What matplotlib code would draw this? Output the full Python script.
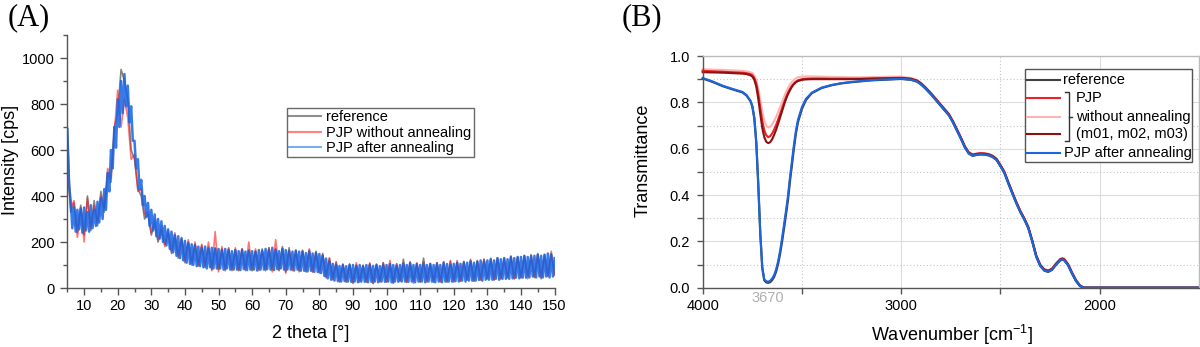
import numpy as np
import matplotlib
matplotlib.use('Agg')
import matplotlib.pyplot as plt
from matplotlib.lines import Line2D
from matplotlib.patches import Rectangle
from matplotlib.ticker import MultipleLocator, FormatStrFormatter

plt.rcParams['font.family'] = ['Liberation Sans', 'DejaVu Sans']
plt.rcParams['mathtext.fontset'] = 'custom'
plt.rcParams['mathtext.rm'] = 'Liberation Sans'
plt.rcParams['mathtext.it'] = 'Liberation Sans:italic'

# ---------------- Panel A data (XRD) ----------------
two_theta_fine = np.arange(5.0, 150.25, 0.5)     # 291 points
two_theta_coarse = np.arange(5.0, 150.5, 1.0)    # 146 points

after_annealing_xrd = [
    690, 450, 380, 260, 350, 245, 340, 255, 345, 240,
    350, 250, 330, 245, 360, 260, 340, 270, 375, 285,
    390, 300, 430, 340, 500, 420, 600, 520, 700, 610,
    820, 700, 900, 760, 930, 790, 880, 720, 790, 640,
    640, 520, 560, 430, 470, 360, 400, 310, 370, 270,
    340, 250, 320, 225, 300, 215, 290, 200, 270, 185,
    255, 170, 245, 155, 230, 140, 225, 130, 215, 120,
    205, 110, 195, 105, 190, 100, 185, 95, 180, 95,
    175, 90, 180, 85, 170, 90, 175, 85, 170, 85,
    170, 85, 165, 80, 170, 85, 165, 80, 160, 80,
    165, 80, 160, 78, 165, 82, 158, 78, 162, 80,
    160, 80, 158, 76, 165, 80, 160, 80, 170, 82,
    165, 80, 175, 78, 165, 82, 160, 85, 170, 80,
    165, 80, 160, 80, 158, 76, 162, 80, 158, 75,
    158, 75, 152, 72, 158, 75, 150, 70, 152, 70,
    148, 65, 140, 52, 128, 42, 115, 36, 105, 32,
    100, 30, 96, 28, 100, 30, 95, 28, 100, 27,
    100, 28, 96, 25, 100, 28, 95, 27, 100, 25,
    100, 27, 96, 28, 100, 25, 95, 28, 100, 27,
    100, 28, 104, 25, 100, 28, 96, 27, 100, 28,
    104, 28, 100, 27, 108, 28, 100, 25, 104, 28,
    100, 28, 104, 25, 100, 28, 105, 28, 100, 25,
    105, 28, 100, 25, 110, 28, 104, 28, 100, 28,
    105, 30, 110, 28, 105, 32, 110, 28, 110, 32,
    115, 32, 110, 32, 115, 35, 120, 32, 115, 36,
    120, 36, 125, 36, 120, 40, 130, 36, 125, 40,
    130, 40, 125, 40, 135, 42, 130, 45, 135, 42,
    135, 45, 140, 45, 135, 46, 140, 50, 140, 46,
    145, 50, 140, 46, 145, 50, 150, 46, 145, 50,
    130,
]

reference_xrd = [
    700, 330, 370, 240, 360, 230, 400, 250, 380, 270,
    420, 330, 500, 460, 700, 760, 950, 900, 820, 600,
    560, 430, 400, 300, 320, 230, 280, 200, 250, 190,
    240, 150, 220, 130, 210, 110, 200, 100, 190, 95,
    185, 90, 180, 80, 175, 80, 170, 75, 175, 80,
    165, 75, 170, 80, 165, 75, 160, 80, 170, 75,
    175, 80, 170, 75, 180, 70, 175, 80, 165, 75,
    160, 70, 165, 70, 160, 65, 150, 45, 130, 35,
    110, 30, 100, 25, 105, 20, 100, 30, 95, 25,
    105, 20, 100, 30, 110, 25, 100, 20, 105, 30,
    125, 25, 110, 30, 105, 25, 130, 30, 105, 25,
    110, 30, 105, 25, 115, 30, 110, 30, 115, 35,
    120, 30, 115, 35, 125, 40, 120, 35, 130, 40,
    125, 45, 135, 40, 130, 45, 140, 50, 135, 45,
    145, 40, 140, 50, 150, 60,
]

without_annealing_xrd = [
    500, 350, 380, 220, 350, 200, 390, 260, 360, 280,
    400, 350, 520, 480, 680, 860, 700, 820, 740, 560,
    580, 420, 430, 320, 330, 240, 300, 210, 270, 180,
    250, 160, 240, 140, 220, 120, 210, 110, 200, 100,
    190, 95, 200, 75, 245, 70, 180, 80, 170, 75,
    175, 80, 170, 75, 200, 80, 170, 75, 165, 80,
    175, 70, 210, 80, 170, 65, 165, 75, 160, 70,
    165, 75, 170, 70, 155, 70, 145, 50, 130, 40,
    115, 25, 105, 30, 100, 25, 110, 25, 100, 30,
    110, 20, 105, 25, 110, 30, 120, 25, 105, 30,
    110, 25, 115, 20, 110, 30, 115, 25, 105, 30,
    110, 25, 115, 30, 120, 25, 120, 30, 115, 35,
    125, 30, 120, 35, 125, 40, 130, 35, 125, 40,
    130, 45, 140, 40, 135, 45, 140, 40, 145, 50,
    150, 45, 145, 55, 160, 55,
]

# ---------------- Panel B data (FTIR) ----------------
wavenumber = [
    4000, 3950, 3900, 3850, 3800, 3780, 3760, 3750, 3740, 3730,
    3720, 3710, 3700, 3690, 3680, 3670, 3660, 3650, 3640, 3630,
    3620, 3610, 3600, 3590, 3580, 3570, 3560, 3550, 3540, 3530,
    3520, 3500, 3480, 3450, 3400, 3350, 3300, 3250, 3200, 3150,
    3100, 3050, 3000, 2950, 2920, 2900, 2880, 2850, 2820, 2800,
    2780, 2760, 2740, 2720, 2700, 2680, 2660, 2640, 2620, 2600,
    2580, 2560, 2540, 2520, 2500, 2480, 2460, 2440, 2420, 2400,
    2380, 2360, 2340, 2320, 2300, 2280, 2260, 2240, 2220, 2200,
    2190, 2180, 2160, 2140, 2120, 2100, 2080, 2060, 2000, 1900,
    1800, 1700, 1600, 1500,
]

t_after = [
    0.905, 0.890, 0.872, 0.858, 0.845, 0.832, 0.808, 0.785, 0.735, 0.630,
    0.450, 0.240, 0.090, 0.036, 0.028, 0.026, 0.030, 0.040, 0.055, 0.080,
    0.115, 0.160, 0.215, 0.275, 0.335, 0.400, 0.480, 0.550, 0.620, 0.680,
    0.725, 0.780, 0.815, 0.842, 0.864, 0.875, 0.883, 0.888, 0.892, 0.896,
    0.898, 0.900, 0.902, 0.898, 0.890, 0.878, 0.862, 0.835, 0.805, 0.785,
    0.765, 0.745, 0.715, 0.680, 0.645, 0.607, 0.580, 0.570, 0.574, 0.576,
    0.575, 0.572, 0.565, 0.552, 0.525, 0.495, 0.450, 0.407, 0.365, 0.327,
    0.295, 0.258, 0.200, 0.135, 0.095, 0.075, 0.069, 0.078, 0.100, 0.118,
    0.122, 0.120, 0.098, 0.062, 0.030, 0.008, 0.000, 0.000, 0.000, 0.000,
    0.000, 0.000, 0.000, 0.000,
]

t_reference = [
    0.903, 0.888, 0.870, 0.856, 0.843, 0.830, 0.806, 0.782, 0.730, 0.622,
    0.440, 0.232, 0.085, 0.032, 0.023, 0.021, 0.024, 0.033, 0.047, 0.070,
    0.103, 0.147, 0.200, 0.258, 0.318, 0.382, 0.462, 0.533, 0.605, 0.668,
    0.715, 0.772, 0.810, 0.840, 0.862, 0.874, 0.882, 0.887, 0.891, 0.895,
    0.897, 0.899, 0.901, 0.897, 0.889, 0.877, 0.861, 0.834, 0.804, 0.784,
    0.764, 0.744, 0.714, 0.679, 0.644, 0.606, 0.579, 0.569, 0.573, 0.575,
    0.574, 0.571, 0.564, 0.551, 0.524, 0.494, 0.449, 0.406, 0.364, 0.326,
    0.294, 0.257, 0.199, 0.134, 0.094, 0.074, 0.068, 0.077, 0.099, 0.117,
    0.121, 0.119, 0.097, 0.061, 0.029, 0.007, 0.000, 0.000, 0.000, 0.000,
    0.000, 0.000, 0.000, 0.000,
]

t_m01 = [
    0.936, 0.934, 0.932, 0.930, 0.928, 0.926, 0.922, 0.917, 0.905, 0.880,
    0.835, 0.775, 0.720, 0.680, 0.658, 0.650, 0.654, 0.666, 0.683, 0.703,
    0.726, 0.750, 0.775, 0.800, 0.822, 0.842, 0.858, 0.872, 0.882, 0.890,
    0.895, 0.900, 0.902, 0.903, 0.903, 0.902, 0.902, 0.902, 0.902, 0.903,
    0.904, 0.905, 0.906, 0.902, 0.894, 0.882, 0.866, 0.839, 0.809, 0.789,
    0.769, 0.749, 0.719, 0.684, 0.649, 0.611, 0.584, 0.574, 0.578, 0.580,
    0.579, 0.576, 0.569, 0.556, 0.529, 0.499, 0.454, 0.411, 0.369, 0.331,
    0.299, 0.262, 0.204, 0.139, 0.099, 0.079, 0.073, 0.082, 0.104, 0.122,
    0.126, 0.124, 0.102, 0.066, 0.033, 0.010, 0.000, 0.000, 0.000, 0.000,
    0.000, 0.000, 0.000, 0.000,
]

t_m02 = [
    0.943, 0.941, 0.940, 0.938, 0.936, 0.934, 0.930, 0.926, 0.915, 0.895,
    0.860, 0.810, 0.760, 0.722, 0.700, 0.692, 0.695, 0.705, 0.720, 0.738,
    0.758, 0.780, 0.802, 0.824, 0.845, 0.862, 0.877, 0.889, 0.898, 0.904,
    0.908, 0.911, 0.912, 0.912, 0.911, 0.910, 0.909, 0.908, 0.908, 0.909,
    0.910, 0.911, 0.911, 0.905, 0.896, 0.884, 0.868, 0.841, 0.811, 0.791,
    0.771, 0.751, 0.721, 0.686, 0.651, 0.613, 0.586, 0.576, 0.580, 0.582,
    0.581, 0.578, 0.571, 0.558, 0.531, 0.501, 0.456, 0.413, 0.371, 0.333,
    0.301, 0.264, 0.206, 0.141, 0.101, 0.081, 0.075, 0.084, 0.106, 0.124,
    0.128, 0.126, 0.104, 0.068, 0.035, 0.011, 0.000, 0.000, 0.000, 0.000,
    0.000, 0.000, 0.000, 0.000,
]

t_m03 = [
    0.930, 0.929, 0.928, 0.926, 0.924, 0.922, 0.917, 0.911, 0.897, 0.868,
    0.815, 0.750, 0.690, 0.650, 0.630, 0.624, 0.628, 0.641, 0.660, 0.682,
    0.708, 0.735, 0.762, 0.790, 0.815, 0.836, 0.853, 0.868, 0.879, 0.887,
    0.892, 0.897, 0.899, 0.900, 0.900, 0.900, 0.900, 0.900, 0.901, 0.902,
    0.903, 0.904, 0.905, 0.901, 0.893, 0.881, 0.865, 0.838, 0.808, 0.788,
    0.768, 0.748, 0.718, 0.683, 0.648, 0.610, 0.583, 0.573, 0.577, 0.579,
    0.578, 0.575, 0.568, 0.555, 0.528, 0.498, 0.453, 0.410, 0.368, 0.330,
    0.298, 0.261, 0.203, 0.138, 0.098, 0.078, 0.072, 0.081, 0.103, 0.121,
    0.125, 0.123, 0.101, 0.065, 0.032, 0.009, 0.000, 0.000, 0.000, 0.000,
    0.000, 0.000, 0.000, 0.000,
]

xrd_labels = ['reference', 'PJP without annealing', 'PJP after annealing']
ftir_labels = ['reference', 'PJP', 'without annealing', '(m01, m02, m03)',
               'PJP after annealing']

# ---------------- Figure ----------------
W, H = 1200, 347
fig = plt.figure(figsize=(W / 100, H / 100), dpi=100)


def fx(x):
    return x / W


def fy(y):
    return 1 - y / H


AX_COL = '#555555'
TICK_FS = 10.5
LABEL_FS = 13

# ---- Panel A ----
axA = fig.add_axes([fx(67.3), fy(288), (554.6 - 67.3) / W, (288 - 35) / H])
axA.plot(two_theta_coarse, reference_xrd, color='#333333', lw=1.2, alpha=0.6,
         label=xrd_labels[0])
axA.plot(two_theta_coarse, without_annealing_xrd, color='#ff1a1a', lw=1.2,
         alpha=0.6, label=xrd_labels[1])
axA.plot(two_theta_fine, after_annealing_xrd, color='#1464e6', lw=1.8,
         alpha=0.85, label=xrd_labels[2])
axA.set_xlim(5, 150)
axA.set_ylim(0, 1100)
axA.set_xticks(np.arange(10, 151, 10))
axA.xaxis.set_minor_locator(MultipleLocator(5))
axA.set_yticks(np.arange(0, 1001, 200))
axA.yaxis.set_minor_locator(MultipleLocator(100))
for s in ['top', 'right']:
    axA.spines[s].set_visible(False)
for s in ['left', 'bottom']:
    axA.spines[s].set_color(AX_COL)
    axA.spines[s].set_linewidth(1.0)
axA.tick_params(which='major', direction='out', length=5, width=1,
                color=AX_COL, labelsize=TICK_FS, pad=3)
axA.tick_params(which='minor', direction='out', length=3, width=1,
                color=AX_COL)
axA.tick_params(axis='y', which='major', pad=4)
axA.set_xlabel('2 theta [°]', fontsize=LABEL_FS)
axA.set_ylabel('Intensity [cps]', fontsize=LABEL_FS)
axA.xaxis.label.set_va('center')
axA.yaxis.label.set_va('center')
axA.xaxis.set_label_coords((311 - 67.3) / 487.3, (288 - 333) / 253)
axA.yaxis.set_label_coords((11 - 67.3) / 487.3, (288 - 160) / 253)
legA = axA.legend(loc='upper left', bbox_to_anchor=((287 - 67.3) / 487.3,
                                                     (288 - 108) / 253),
                  borderaxespad=0, fontsize=10.5, frameon=True, fancybox=False,
                  edgecolor='#444444', handlelength=2.2, handletextpad=0.35,
                  labelspacing=0.1, borderpad=0.15)
legA.get_frame().set_linewidth(1.0)
for ln in legA.get_lines():
    ln.set_linewidth(1.5)
    ln.set_alpha(0.55)

fig.text(fx(8), fy(18), '(A)', family=['Liberation Serif', 'DejaVu Serif'],
         fontsize=22, ha='left', va='center')

# ---- Panel B ----
axB = fig.add_axes([fx(702.7), fy(287.7), (1199 - 702.7) / W,
                    (287.7 - 56) / H])
axB.set_xlim(4000, 1500)
axB.set_ylim(0, 1.0)
axB.set_xticks([4000, 3000, 2000])
axB.set_xticks([3500, 2500], minor=True)
axB.set_yticks(np.arange(0, 1.01, 0.2))
axB.yaxis.set_minor_locator(MultipleLocator(0.1))
axB.yaxis.set_major_formatter(FormatStrFormatter('%.1f'))
axB.grid(which='major', color='#dcdcdc', lw=0.8, ls='-')
axB.grid(which='minor', color='#c4c4c4', lw=0.8, ls=(0, (1, 2)))
axB.set_axisbelow(True)
for s in ['left', 'bottom']:
    axB.spines[s].set_color(AX_COL)
    axB.spines[s].set_linewidth(1.0)
for s in ['top', 'right']:
    axB.spines[s].set_color('#bbbbbb')
    axB.spines[s].set_linewidth(1.0)
axB.tick_params(which='both', direction='out', length=4, width=1,
                color=AX_COL, labelsize=TICK_FS)
axB.tick_params(axis='x', which='major', pad=4)
axB.tick_params(axis='y', which='major', pad=5)

b_colors = ['#404040', '#ee2222', '#ffb4b4', '#8b1212', '#1a66e0']
axB.plot(wavenumber, t_m02, color=b_colors[2], lw=1.5, clip_on=False)
axB.plot(wavenumber, t_m01, color=b_colors[1], lw=1.5, clip_on=False)
axB.plot(wavenumber, t_m03, color=b_colors[3], lw=1.5, clip_on=False)
axB.plot(wavenumber, t_reference, color=b_colors[0], lw=1.6, clip_on=False)
axB.plot(wavenumber, t_after, color=b_colors[4], lw=1.5, clip_on=False)

axB.set_xlabel('Wavenumber [cm$^{-1}$]', fontsize=LABEL_FS)
axB.set_ylabel('Transmittance', fontsize=LABEL_FS)
axB.xaxis.label.set_va('center')
axB.yaxis.label.set_va('center')
axB.xaxis.set_label_coords((952 - 702.7) / 496.3, (287.7 - 335) / 231.7)
axB.yaxis.set_label_coords((643 - 702.7) / 496.3, (287.7 - 160) / 231.7)

axB.annotate('3670', xy=(3670, 0), xycoords=('data', 'axes fraction'),
             xytext=(0, -10), textcoords='offset pixels', ha='center',
             va='center', fontsize=TICK_FS, color='#b0b0b0',
             annotation_clip=False)

fig.text(fx(622), fy(18), '(B)', family=['Liberation Serif', 'DejaVu Serif'],
         fontsize=22, ha='left', va='center')

# ---- Panel B legend (drawn by hand to reproduce the bracket) ----
box = Rectangle((fx(1025), fy(162)), fx(1192) - fx(1025), fy(69) - fy(162),
                transform=fig.transFigure, facecolor='white',
                edgecolor='#555555', lw=1.0, zorder=5)
fig.add_artist(box)
rows_y = [80, 97.7, 116.7, 134.3, 152.7]
text_x = [1063.5, 1076, 1076, 1076, 1063.5]
for lab, col, ry, tx in zip(ftir_labels, b_colors, rows_y, text_x):
    fig.add_artist(Line2D([fx(1027), fx(1060)], [fy(ry), fy(ry)],
                          transform=fig.transFigure, color=col, lw=1.5,
                          zorder=6))
    fig.text(fx(tx), fy(ry), lab, fontsize=10.5, ha='left', va='center',
             zorder=6)
# bracket
fig.add_artist(Line2D([fx(1065), fx(1069), fx(1069), fx(1065)],
                      [fy(92), fy(92), fy(141), fy(141)],
                      transform=fig.transFigure, color='#333333', lw=1.0,
                      zorder=6))
fig.add_artist(Line2D([fx(1069), fx(1072)], [fy(116.7), fy(116.7)],
                      transform=fig.transFigure, color='#333333', lw=1.0,
                      zorder=6))

fig.savefig('out.png', dpi=100)
